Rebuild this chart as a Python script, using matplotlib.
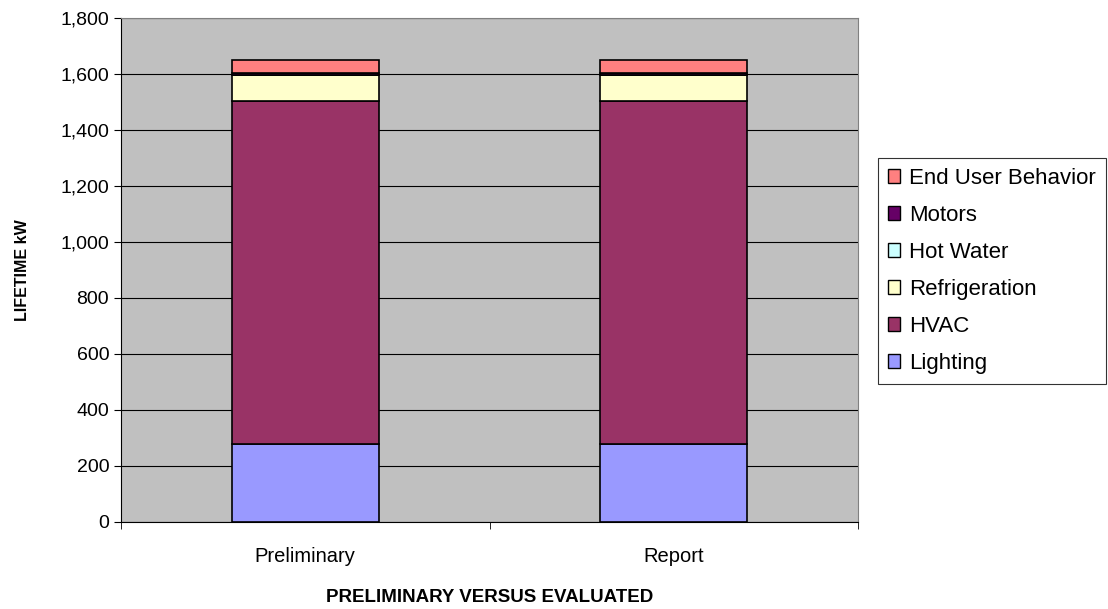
import matplotlib.pyplot as plt
import matplotlib.ticker as mticker
from matplotlib.patches import Patch
import numpy as np

plt.rcParams['font.family'] = ['Liberation Sans', 'DejaVu Sans']

categorias = ["Preliminary", "Report"]
series = ["Lighting", "HVAC", "Refrigeration", "Hot Water", "Motors", "End User Behavior"]
lighting = [277, 277]
hvac = [1226, 1226]
refrigeration = [94, 94]
hot_water = [0, 0]
motors = [8, 8]
end_user = [46, 46]
cores = ["#9999FF", "#993366", "#FFFFCC", "#CCFFFF", "#660066", "#FF8080"]

valores = [lighting, hvac, refrigeration, hot_water, motors, end_user]

fig = plt.figure(figsize=(11.08, 6.09), dpi=100)
ax = fig.add_axes([0.1092, 0.1429, 0.6652, 0.8275])
ax.set_facecolor("#C0C0C0")

x = np.arange(len(categorias))
base = np.zeros(len(categorias))
for nome, v, c in zip(series, valores, cores):
    ax.bar(x, v, 0.4, bottom=base, color=c, edgecolor="black", linewidth=1.2, label=nome, zorder=3)
    base += np.array(v)

ax.set_xlim(-0.5, 1.5)
ax.set_ylim(0, 1800)
ax.yaxis.set_major_locator(mticker.MultipleLocator(200))
ax.yaxis.set_major_formatter(mticker.FuncFormatter(lambda v, p: f"{int(v):,}"))
ax.grid(axis="y", color="black", linewidth=0.8, zorder=1)
ax.set_axisbelow(True)

ax.set_xticks(x)
ax.set_xticklabels(categorias, fontsize=14.5)
ax.tick_params(axis="x", length=0, pad=18)
ax.set_xticks([-0.5, 0.5, 1.5], minor=True)
ax.tick_params(axis="x", which="minor", length=5, direction="out")
ax.tick_params(axis="y", labelsize=14, length=5, direction="out")

for lado in ["top", "right"]:
    ax.spines[lado].set_color("#808080")
ax.spines["left"].set_color("black")
ax.spines["bottom"].set_color("black")

fig.text(490 / 1108, 1 - 597 / 609, "PRELIMINARY VERSUS EVALUATED", fontsize=13.5,
         fontweight="bold", ha="center", va="center")
ax.set_ylabel("LIFETIME kW", fontsize=11.5, fontweight="bold", labelpad=22)

handles = [Patch(facecolor=c, edgecolor="black", label=n) for n, c in zip(series, cores)]
handles = handles[::-1]
leg = fig.legend(handles=handles, loc="upper left", bbox_to_anchor=(878 / 1108, 1 - 158 / 609),
                 fontsize=16, frameon=True, fancybox=False, edgecolor="black",
                 handlelength=0.55, handleheight=0.55, handletextpad=0.4,
                 labelspacing=0.72, borderpad=0.45, borderaxespad=0)
leg.get_frame().set_linewidth(0.8)

plt.savefig("out.png", dpi=100)
plt.close()
